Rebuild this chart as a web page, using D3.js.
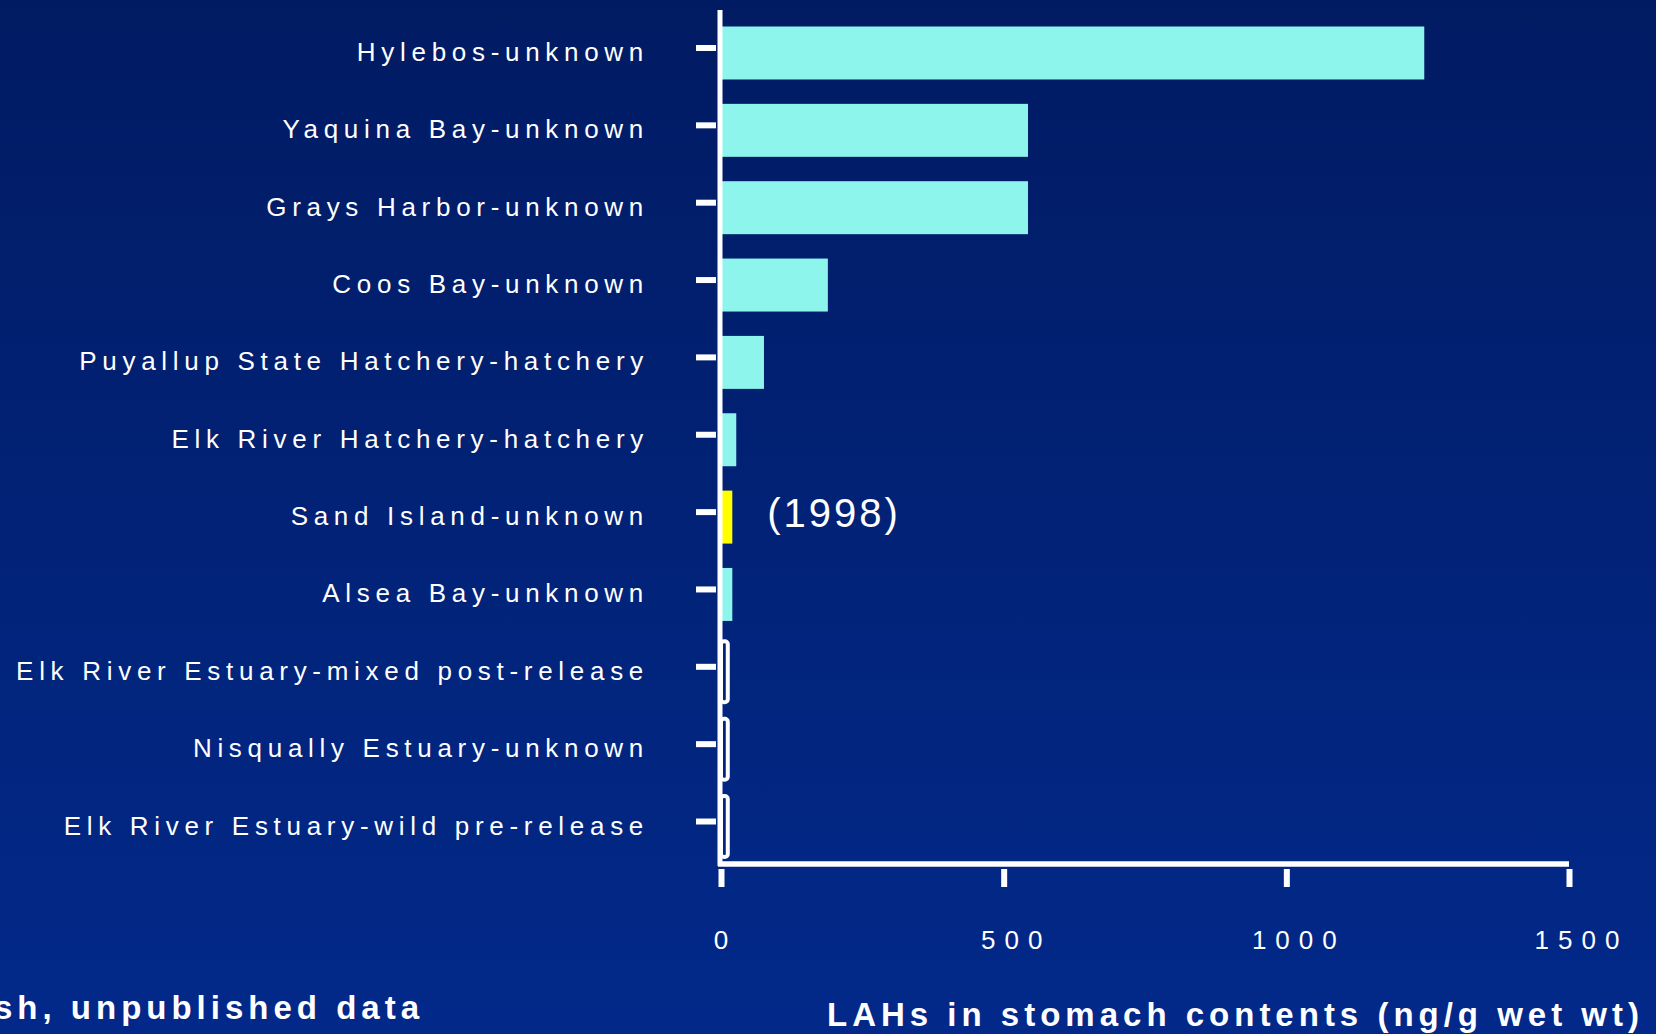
<!DOCTYPE html>
<html>
<head>
<meta charset="utf-8">
<script src="https://cdn.jsdelivr.net/npm/d3@7"></script>
<style>
  html, body { margin: 0; padding: 0; overflow: hidden; background: #011b63; }
  svg { display: block; }
  text { font-family: "Liberation Sans", Arial, Helvetica, sans-serif; fill: #ffffff; }
</style>
</head>
<body>
<svg id="chart" width="1656" height="1034"></svg>
<script>
// ---- data ----
const categories = [
  "Hylebos-unknown",
  "Yaquina Bay-unknown",
  "Grays Harbor-unknown",
  "Coos Bay-unknown",
  "Puyallup State Hatchery-hatchery",
  "Elk River Hatchery-hatchery",
  "Sand Island-unknown",
  "Alsea Bay-unknown",
  "Elk River Estuary-mixed post-release",
  "Nisqually Estuary-unknown",
  "Elk River Estuary-wild pre-release"
];
const values = [1244, 543, 543, 189, 76, 27, 20, 20, 12, 12, 12];
const barKinds = ["filled", "filled", "filled", "filled", "filled", "filled",
                  "highlight", "filled", "outline", "outline", "outline"];
const xTickValues = [0, 500, 1000, 1500];
const xDomain = [0, 1500];
const annotationText = "(1998)";
const annotationCategory = "Sand Island-unknown";
const xTitle = "LAHs in stomach contents (ng/g wet wt)";
const sourceNote = "sh, unpublished data";

// ---- layout ----
const W = 1656, H = 1034;
const svg = d3.select("#chart");

const defs = svg.append("defs");
const grad = defs.append("linearGradient").attr("id", "bg")
  .attr("x1", 0).attr("y1", 0).attr("x2", 0).attr("y2", 1);
grad.append("stop").attr("offset", "0%").attr("stop-color", "#011b63");
grad.append("stop").attr("offset", "100%").attr("stop-color", "#02298a");
svg.append("rect").attr("width", W).attr("height", H).attr("fill", "url(#bg)");

const x = d3.scaleLinear().domain(xDomain).range([721, 1569]);
const y = d3.scaleBand().domain(categories).range([26.5, 853]).paddingInner(0.315).paddingOuter(0);

const colors = { filled: "#8df5ec", highlight: "#ffff00" };
const data = categories.map((c, i) => ({ cat: c, v: values[i], kind: barKinds[i] }));

// bars
svg.append("g").selectAll("rect")
  .data(data.filter(d => d.kind !== "outline"))
  .join("rect")
  .attr("x", x(0))
  .attr("y", d => y(d.cat))
  .attr("width", d => x(d.v) - x(0))
  .attr("height", y.bandwidth())
  .attr("fill", d => colors[d.kind]);

svg.append("g").selectAll("rect")
  .data(data.filter(d => d.kind === "outline"))
  .join("rect")
  .attr("x", x(0))
  .attr("y", d => y(d.cat) - 4)
  .attr("width", d => x(d.v) - x(0))
  .attr("height", y.bandwidth() + 8)
  .attr("rx", 3)
  .attr("fill", "none")
  .attr("stroke", "#ffffff")
  .attr("stroke-width", 4);

// axis lines
svg.append("line")
  .attr("x1", x(0) - 1).attr("x2", x(0) - 1)
  .attr("y1", 10).attr("y2", 866)
  .attr("stroke", "#ffffff").attr("stroke-width", 5);
svg.append("line")
  .attr("x1", x(0) - 3).attr("x2", x(1500))
  .attr("y1", 864).attr("y2", 864)
  .attr("stroke", "#ffffff").attr("stroke-width", 5.5);

// y axis (ticks + labels)
const yAxisG = svg.append("g")
  .attr("transform", "translate(716,-5)")
  .call(d3.axisLeft(y).tickSize(20).tickSizeOuter(0).tickPadding(0));
yAxisG.select(".domain").remove();
yAxisG.selectAll(".tick line").attr("stroke", "#ffffff").attr("stroke-width", 6);
yAxisG.selectAll(".tick text")
  .attr("x", -67)
  .attr("dy", null)
  .attr("y", 13)
  .attr("text-anchor", "end")
  .style("font-size", "26px")
  .style("letter-spacing", "5.7px")
  .style("fill", "#ffffff")
  .style("font-family", "'Liberation Sans', Arial, sans-serif");

// x axis (ticks + labels)
const xAxisG = svg.append("g")
  .attr("transform", "translate(0,869)")
  .call(d3.axisBottom(x).tickValues(xTickValues).tickSize(18).tickSizeOuter(0).tickFormat(d3.format("d")));
xAxisG.select(".domain").remove();
xAxisG.selectAll(".tick line").attr("stroke", "#ffffff").attr("stroke-width", 6);
xAxisG.selectAll(".tick text")
  .attr("y", 80)
  .attr("dy", null)
  .attr("dx", d => d === 0 ? 4 : 12)
  .attr("text-anchor", "middle")
  .style("font-size", "26px")
  .style("letter-spacing", "9px")
  .style("fill", "#ffffff")
  .style("font-family", "'Liberation Sans', Arial, sans-serif");

// annotation
const annIdx = categories.indexOf(annotationCategory);
svg.append("text")
  .attr("x", x(values[annIdx]) + 35)
  .attr("y", y(annotationCategory) + y.bandwidth() / 2 + 10)
  .style("font-size", "40px")
  .style("letter-spacing", "3px")
  .text(annotationText);

// x axis title
svg.append("text")
  .attr("x", 827)
  .attr("y", 1026)
  .style("font-size", "33px")
  .style("font-weight", "bold")
  .style("letter-spacing", "5px")
  .text(xTitle);

// source note (clipped at left edge, as in the original slide)
svg.append("text")
  .attr("x", 424)
  .attr("y", 1019)
  .attr("text-anchor", "end")
  .style("font-size", "33px")
  .style("font-weight", "bold")
  .style("letter-spacing", "5px")
  .text(sourceNote);
</script>
</body>
</html>
